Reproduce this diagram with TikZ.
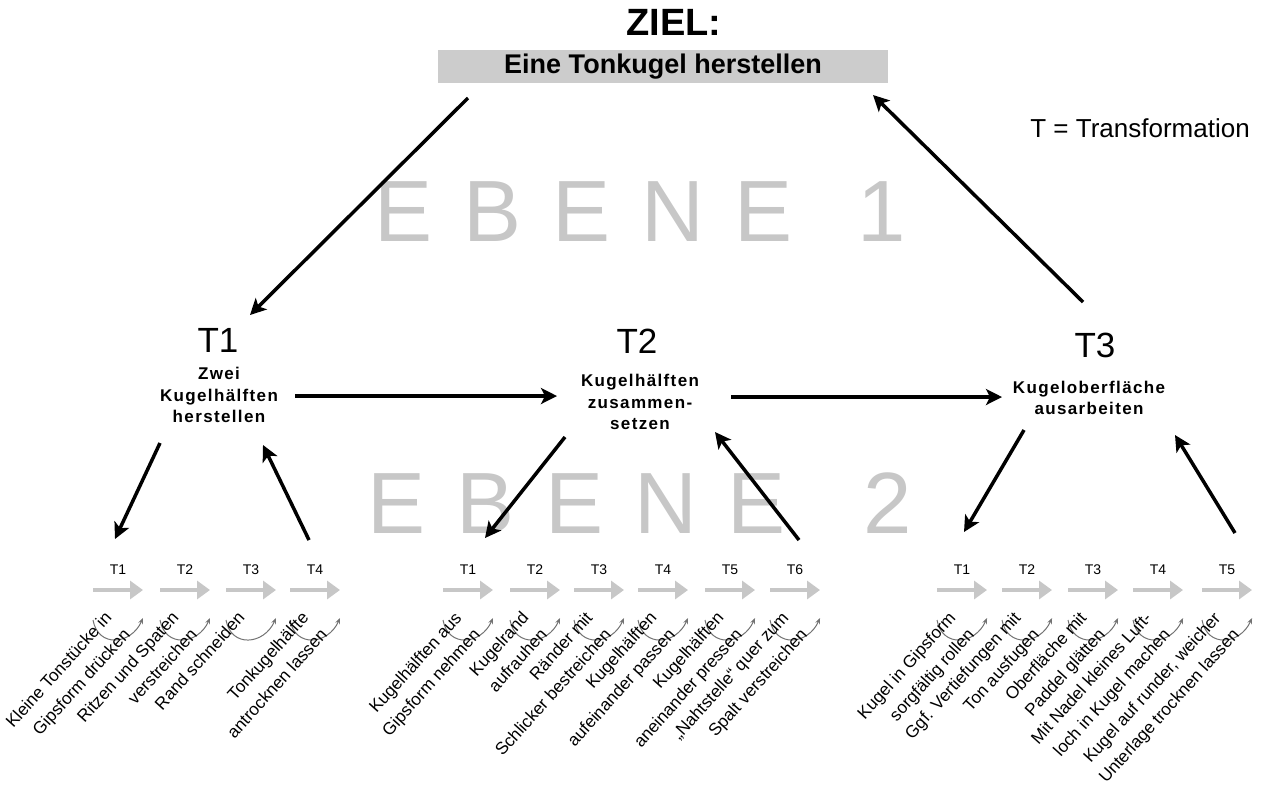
\documentclass[tikz,border=0pt]{standalone}
\usepackage{fontspec}
\setmainfont{Liberation Sans}
\usetikzlibrary{arrows.meta}
\begin{document}
\begin{tikzpicture}[x=0.5pt,y=-0.5pt,line join=round,
    bigarrow/.style={line width=1.75pt,-{Stealth[length=8pt,width=8pt,inset=2pt]}},
    steparrow/.style={draw=black!22,line width=2pt,-{Triangle[length=6.5pt,width=9pt]}},
    turn/.style={draw=black!55,line width=0.5pt,-{Stealth[length=3pt,width=2.5pt]}},
    ttitle/.style={anchor=base,inner sep=0pt,font=\fontsize{17.5}{20}\selectfont},
    task/.style={align=center,inner sep=0pt,font=\fontsize{8.5}{10.85}\selectfont\bfseries\addfontfeature{LetterSpace=8}},
    tag/.style={inner sep=0pt,font=\fontsize{7}{8}\selectfont},
    todo/.style={rotate=48,anchor=north east,align=right,inner sep=1pt,font=\fontsize{8.6}{12.5}\selectfont},
    ebene/.style={anchor=base west,inner sep=0pt,text=black!22,font=\fontsize{43.5}{44}\selectfont\addfontfeature{LetterSpace=35.5}}]
\useasboundingbox (0,0) rectangle (1261,789);
% Ebenen im Hintergrund
\node[ebene] (ebene1) at (374,241) {EBENE\hspace{32.5pt}1};
\node[ebene] (ebene2) at (367,533) {EBENE\hspace{39pt}2};
% Ziel
\node[anchor=base,inner sep=0pt,font=\fontsize{19}{22}\selectfont\bfseries] (ziel) at (674,35) {ZIEL:};
\node[fill=black!20,minimum width=225pt,minimum height=16.5pt,inner sep=0pt,
      font=\fontsize{13.5}{16}\selectfont\bfseries] (goal) at (663,66.5) {Eine Tonkugel herstellen};
\node[anchor=base,inner sep=0pt,font=\fontsize{13}{15}\selectfont] (legend) at (1140,137) {T = Transformation};
% Ebene 1: drei Transformationen
\node[ttitle] (t1) at (218,352) {T1};
\node[task] (t1txt) at (219,395) {Zwei\\Kugelhälften\\herstellen};
\node[ttitle] (t2) at (637,353) {T2};
\node[task] (t2txt) at (640,402) {Kugelhälften\\zusammen-\\setzen};
\node[ttitle] (t3) at (1095,357) {T3};
\node[task] (t3txt) at (1089,398) {Kugeloberfläche\\ausarbeiten};
% Ebene 2: Teilschritte
\foreach \x/\n/\txt in {93/1/{Kleine Tonstücke in\\Gipsform drücken},
    160/2/{Ritzen und Spaten\\verstreichen},226/3/{Rand schneiden},
    290/4/{Tonkugelhälfte\\antrocknen lassen}}{
  \node[tag] (a\n) at (\x+25,570) {T\n};
  \draw[steparrow] (\x,590) -- (\x+50,590);
  \draw[turn] (\x,620) .. controls (\x+5,648) and (\x+38,645) .. (\x+50,618);
  \node[todo] (a\n-txt) at (\x+10,607) {\txt};
}
\foreach \x/\n/\txt in {443/1/{Kugelhälften aus\\Gipsform nehmen},
    510/2/{Kugelrand\\aufrauhen},574/3/{Ränder mit\\Schlicker bestreichen},
    638/4/{Kugelhälften\\aufeinander passen},705/5/{Kugelhälften\\aneinander pressen},
    770/6/{„Nahtstelle“ quer zum\\Spalt verstreichen}}{
  \node[tag] (b\n) at (\x+25,570) {T\n};
  \draw[steparrow] (\x,590) -- (\x+50,590);
  \draw[turn] (\x,620) .. controls (\x+5,648) and (\x+38,645) .. (\x+50,618);
  \node[todo] (b\n-txt) at (\x+10,607) {\txt};
}
\foreach \x/\n/\txt in {937/1/{Kugel in Gipsform\\sorgfältig rollen},
    1002/2/{Ggf. Vertiefungen mit\\Ton ausfugen},1068/3/{Oberfläche mit\\Paddel glätten},
    1133/4/{Mit Nadel kleines Luft-\\loch in Kugel machen},
    1202/5/{Kugel auf runder, weicher\\Unterlage trocknen lassen}}{
  \node[tag] (c\n) at (\x+25,570) {T\n};
  \draw[steparrow] (\x,590) -- (\x+50,590);
  \draw[turn] (\x,620) .. controls (\x+5,648) and (\x+38,645) .. (\x+50,618);
  \node[todo] (c\n-txt) at (\x+10,607) {\txt};
}
% Enden der Pfeile
\coordinate (goal-out) at (468,98);  \coordinate (t1-in) at (250,315);
\coordinate (t3-out) at (1083,302);  \coordinate (goal-in) at (873,95);
\coordinate (t1-right) at (295,396); \coordinate (t2-left) at (557,396);
\coordinate (t2-right) at (731,397); \coordinate (t3-left) at (1002,397);
\coordinate (t1-down) at (160,443);  \coordinate (a-first) at (115,539);
\coordinate (a-last) at (309,540);   \coordinate (t1-up) at (263,445);
\coordinate (t2-down) at (565,437);  \coordinate (b-first) at (485,538);
\coordinate (b-last) at (799,540);   \coordinate (t2-up) at (715,432);
\coordinate (t3-down) at (1024,430); \coordinate (c-first) at (964,532);
\coordinate (c-last) at (1235,533);  \coordinate (t3-up) at (1175,435);
\draw[bigarrow] (goal-out) -- (t1-in);
\draw[bigarrow] (t3-out) -- (goal-in);
\draw[bigarrow] (t1-right) -- (t2-left);
\draw[bigarrow] (t2-right) -- (t3-left);
\draw[bigarrow] (t1-down) -- (a-first);
\draw[bigarrow] (a-last) -- (t1-up);
\draw[bigarrow] (t2-down) -- (b-first);
\draw[bigarrow] (b-last) -- (t2-up);
\draw[bigarrow] (t3-down) -- (c-first);
\draw[bigarrow] (c-last) -- (t3-up);
\end{tikzpicture}
\end{document}
